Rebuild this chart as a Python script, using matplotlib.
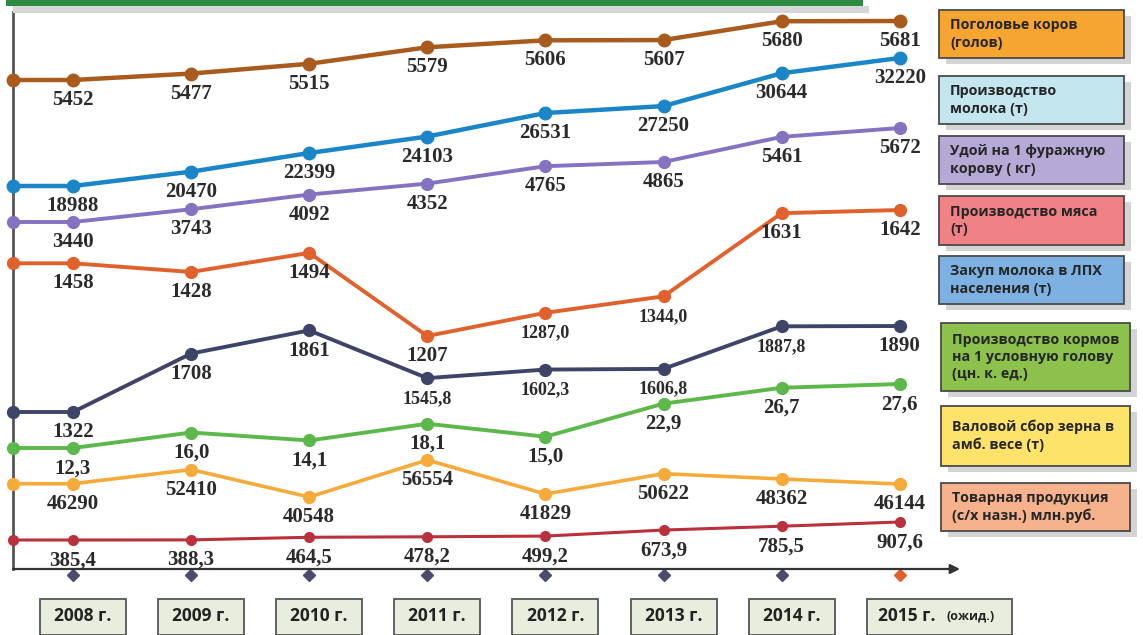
import matplotlib.pyplot as plt
from matplotlib.patches import Rectangle
import matplotlib.transforms as mtransforms

# --- data (labels as printed on the chart) ---
years = ['2008 г.', '2009 г.', '2010 г.', '2011 г.', '2012 г.', '2013 г.', '2014 г.', '2015 г.']

cows = ['5452', '5477', '5515', '5579', '5606', '5607', '5680', '5681']
milk = ['18988', '20470', '22399', '24103', '26531', '27250', '30644', '32220']
milk_yield = ['3440', '3743', '4092', '4352', '4765', '4865', '5461', '5672']
meat = ['1458', '1428', '1494', '1207', '1287,0', '1344,0', '1631', '1642']
milk_purchase = ['1322', '1708', '1861', '1545,8', '1602,3', '1606,8', '1887,8', '1890']
fodder = ['12,3', '16,0', '14,1', '18,1', '15,0', '22,9', '26,7', '27,6']
grain = ['46290', '52410', '40548', '56554', '41829', '50622', '48362', '46144']
output = ['385,4', '388,3', '464,5', '478,2', '499,2', '673,9', '785,5', '907,6']

legend_texts = [
    'Поголовье коров\n(голов)',
    'Производство\nмолока (т)',
    'Удой на 1 фуражную\nкорову ( кг)',
    'Производство мяса\n(т)',
    'Закуп молока в ЛПХ\nнаселения (т)',
    'Производство кормов\nна 1 условную голову\n(цн. к. ед.)',
    'Валовой сбор зерна в\nамб. весе (т)',
    'Товарная продукция\n(с/х назн.) млн.руб.',
]

series = [cows, milk, milk_yield, meat, milk_purchase, fodder, grain, output]

# --- styles ---
line_colors = ['#a95b1d', '#1a86c8', '#8572c0', '#e0612b', '#3e4468', '#5db84c', '#f5aa3a', '#b9313c']
line_widths = [3.2, 3.2, 2.8, 2.8, 2.8, 2.8, 2.6, 2.2]
marker_sizes = [9, 9, 8.5, 8.5, 8.5, 8.5, 8.5, 7]
# each series gets its own vertical band (pixel rows for max / min value)
bands = [(21, 80), (58, 186), (128, 222), (210, 336), (326, 412), (384, 448), (460, 497), (522, 540)]
box_colors = ['#f6a531', '#c3e6ef', '#b7a9d6', '#f08285', '#7db1e2', '#8cc24c', '#fde36a', '#f6b28d']
box_rows = [(10, 58), (76, 124), (136, 184), (196, 245), (256, 304), (323, 391), (406, 466), (483, 531)]

W, H = 1143, 635
fig = plt.figure(figsize=(W / 100, H / 100), dpi=100)
fig.patch.set_facecolor('white')

AX_L, AX_R, AX_T, AX_B = 13, 960, 12, 569
ax = fig.add_axes([AX_L / W, (H - AX_B) / H, (AX_R - AX_L) / W, (AX_B - AX_T) / H])
step = 118.1
x0 = -(73 - AX_L) / step
ax.set_xlim(x0, (AX_R - 73) / step)
ax.set_ylim(0, 1)
for s in ['top', 'right', 'bottom']:
    ax.spines[s].set_visible(False)
ax.spines['left'].set_color('#555555')
ax.spines['left'].set_linewidth(2)
ax.set_xticks([])
ax.set_yticks([])
ax.patch.set_alpha(0)

# x axis arrow
ax.annotate('', xy=(1, 0), xytext=(0, 0), xycoords='axes fraction',
            arrowprops=dict(arrowstyle='-|>', color='#333333', lw=1.6, mutation_scale=14,
                            shrinkA=0, shrinkB=0))

xs = list(range(len(years)))
trans = mtransforms.blended_transform_factory(ax.transData, ax.transAxes)
for i in xs:
    c = '#e0612b' if i == len(years) - 1 else '#4b4b6b'
    ax.plot(i, -0.011, marker='D', ms=6.5, color=c, transform=trans, clip_on=False)

ax_h = AX_B - AX_T
for vals_txt, col, lw, ms, (p_top, p_bot) in zip(series, line_colors, line_widths, marker_sizes, bands):
    vals = [float(v.replace(',', '.')) for v in vals_txt]
    sub = ax.twinx()
    sub.set_axis_off()
    vmin, vmax = min(vals), max(vals)
    f_top = (AX_B - p_top) / ax_h
    f_bot = (AX_B - p_bot) / ax_h
    span = (vmax - vmin) / (f_top - f_bot)
    lo = vmin - f_bot * span
    sub.set_ylim(lo, lo + span)
    sub.plot([x0] + xs, [vals[0]] + vals, color=col, lw=lw, marker='o', ms=ms,
             clip_on=False, solid_capstyle='round')
    for i, (v, t) in enumerate(zip(vals, vals_txt)):
        fs = 13 if len(t) >= 6 else 15
        sub.annotate(t, (i, v), xytext=(0, -14.5), textcoords='offset points',
                     ha='center', va='center', fontsize=fs, fontweight='bold',
                     family='Liberation Serif', color='#2a2a2a')

# top banner remnant
fig.add_artist(Rectangle((13 / W, (H - 13) / H), (869 - 13) / W, 7 / H,
                         transform=fig.transFigure, facecolor='#d6d6d6', edgecolor='none'))
fig.add_artist(Rectangle((6 / W, (H - 6) / H), (863 - 6) / W, 6 / H,
                         transform=fig.transFigure, facecolor='#2e8a40', edgecolor='none'))

# legend boxes
for k, ((top, bot), fc, txt) in enumerate(zip(box_rows, box_colors, legend_texts)):
    left, right = (939, 1124) if k < 5 else (941, 1130)
    fig.add_artist(Rectangle(((left + 7) / W, (H - bot - 6) / H), (right - left) / W, (bot - top) / H,
                             transform=fig.transFigure, facecolor='#d4d4d4', edgecolor='none'))
    fig.add_artist(Rectangle((left / W, (H - bot) / H), (right - left) / W, (bot - top) / H,
                             transform=fig.transFigure, facecolor=fc, edgecolor='#4a4a4a', lw=1.3))
    fig.text((left + 11) / W, (H - (top + bot) / 2) / H, txt, ha='left', va='center',
             fontsize=10.3, fontweight='bold', family='Open Sans', color='#262626', linespacing=1.3)

# year boxes
box_w = 86
for i, yr in enumerate(years):
    cx = 73 + step * i + 10
    w = box_w if i < len(years) - 1 else 145
    left = cx - box_w / 2
    fig.add_artist(Rectangle((left / W, 0), w / W, (H - 599) / H, transform=fig.transFigure,
                             facecolor='#e8eedd', edgecolor='#555555', lw=1.3))
    if i < len(years) - 1:
        fig.text(cx / W, (H - 616) / H, yr, ha='center', va='center', fontsize=12.5,
                 fontweight='bold', family='Open Sans', color='#222222')
    else:
        fig.text((left + 11) / W, (H - 616) / H, yr, ha='left', va='center', fontsize=12.5,
                 fontweight='bold', family='Open Sans', color='#222222')
        fig.text((left + 80) / W, (H - 616) / H, '(ожид.)', ha='left', va='center', fontsize=9,
                 fontweight='bold', family='Open Sans', color='#222222')

fig.savefig('out.png', dpi=100, facecolor='white')
